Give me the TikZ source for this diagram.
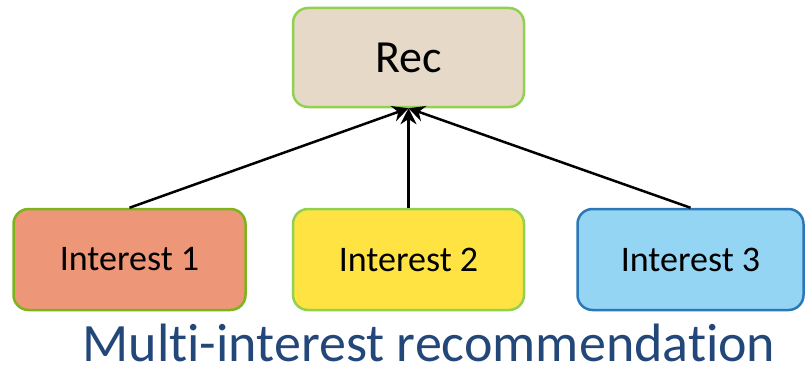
\documentclass[tikz,border=0pt]{standalone}
\usepackage{fontspec}
\setmainfont{Carlito}[Ligatures={NoCommon}]
\usetikzlibrary{arrows.meta}
\definecolor{recfill}{HTML}{E6D9C7}
\definecolor{lightgreen}{HTML}{92D050}
\definecolor{darkgreen}{HTML}{7CB41E}
\definecolor{salmon}{HTML}{ED9678}
\definecolor{sun}{HTML}{FFE343}
\definecolor{sky}{HTML}{94D5F4}
\definecolor{edgeblue}{HTML}{2B78B8}
\definecolor{titleblue}{HTML}{24477A}
\begin{document}
\begin{tikzpicture}[x=1pt,y=1pt,
  box/.style={rounded corners=15pt, line width=2.5pt, inner sep=0pt},
  link/.style={line width=2.5pt, -{Stealth[length=16pt,width=16pt]}}]
\useasboundingbox (0,0) rectangle (805,365);
% recommendation node
\node[box, draw=lightgreen, fill=recfill, minimum width=231pt, minimum height=99pt,
      font=\fontsize{46}{50}\selectfont] (rec) at (408.5,307.5) {Rec};
% interest nodes
\node[box, draw=darkgreen, fill=salmon, minimum width=232pt, minimum height=101pt,
      font=\fontsize{36}{40}\selectfont] (i1) at (129.5,105.5) {Interest 1};
\node[box, draw=lightgreen, fill=sun, minimum width=231pt, minimum height=101pt,
      font=\fontsize{36}{40}\selectfont] (i2) at (408.5,105.5) {Interest 2};
\node[box, draw=edgeblue, fill=sky, minimum width=226pt, minimum height=101pt,
      font=\fontsize{36}{40}\selectfont] (i3) at (690.5,105.5) {Interest 3};
% connectors into the bottom of the recommendation node
\draw[link] (i1.north) -- (rec.south);
\draw[link] (i2.north) -- (rec.south);
\draw[link] (i3.north) -- (rec.south);
% caption
\node[anchor=base, text=titleblue, inner sep=0pt,
      font=\fontsize{54}{58}\selectfont] (cap) at (429,4) {Multi-interest recommendation};
\end{tikzpicture}
\end{document}
